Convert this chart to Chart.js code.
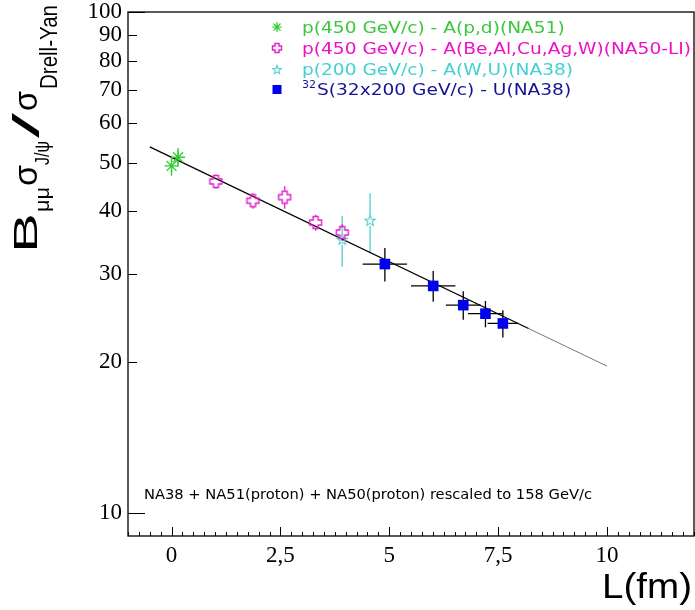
<!DOCTYPE html>
<html lang="en">
<head>
<meta charset="UTF-8">
<title>J/psi / Drell-Yan vs L</title>
<script src="https://cdn.jsdelivr.net/npm/chart.js"></script>
<style>
  html, body { margin: 0; padding: 0; background: #fff; }
  canvas { display: block; }
</style>
</head>
<body>
<canvas id="chart" width="695" height="610"></canvas>
<script>
// values
const na51L = [0.0, 0.15];
const na51R = [49.3, 51.3];
const na51Err = [2.2, 2.2];

const na50L = [1.02, 1.87, 2.60, 3.31, 3.92];
const na50R = [45.9, 42.0, 42.7, 38.0, 36.3];
const na50Err = [1.5, 1.5, 2.2, 1.4, 1.4];

const na38pL = [3.92, 4.56];
const na38pR = [35.1, 38.3];
const na38pErr = [4.1, 5.2];

const suL = [4.90, 6.01, 6.70, 7.21, 7.61];
const suR = [31.4, 28.4, 26.0, 25.0, 23.9];
const suLErr = [0.51, 0.51, 0.40, 0.40, 0.35];
const suRErr = [2.4, 2.0, 1.7, 1.5, 1.5];

const fitL = [-0.5, 8.2];
const fitR = [53.8, 23.35];
const fitTailL = [8.2, 10.0];
const fitTailR = [23.35, 19.65];

const xTickValues = [0, 2.5, 5, 7.5, 10];
const xTickLabels = ['0', '2,5', '5', '7,5', '10'];
const yTickValues = [10, 20, 30, 40, 50, 60, 70, 80, 90, 100];
const yTickLabels = ['10', '20', '30', '40', '50', '60', '70', '80', '90', '100'];

const legendLabels = [
  'p(450 GeV/c) - A(p,d)(NA51)',
  'p(450 GeV/c) - A(Be,Al,Cu,Ag,W)(NA50-LI)',
  'p(200 GeV/c) - A(W,U)(NA38)',
  'S(32x200 GeV/c) - U(NA38)'
];
const noteText = 'NA38 + NA51(proton) + NA50(proton) rescaled to 158 GeV/c';

const pts = (xs, ys) => xs.map((v, i) => ({ x: v, y: ys[i] }));

// marker shapes (ROOT open cross / open star)
function openCross(color, half, arm) {
  const n = Math.ceil(half * 2 + 3);
  const c = document.createElement('canvas');
  c.width = c.height = n;
  const g = c.getContext('2d');
  const o = n / 2;
  g.strokeStyle = color;
  g.lineWidth = 1.4;
  g.beginPath();
  g.moveTo(o - arm, o - half); g.lineTo(o + arm, o - half); g.lineTo(o + arm, o - arm);
  g.lineTo(o + half, o - arm); g.lineTo(o + half, o + arm); g.lineTo(o + arm, o + arm);
  g.lineTo(o + arm, o + half); g.lineTo(o - arm, o + half); g.lineTo(o - arm, o + arm);
  g.lineTo(o - half, o + arm); g.lineTo(o - half, o - arm); g.lineTo(o - arm, o - arm);
  g.closePath();
  g.stroke();
  return c;
}
function openStar(color, r) {
  const n = Math.ceil(r * 2 + 3);
  const c = document.createElement('canvas');
  c.width = c.height = n;
  const g = c.getContext('2d');
  const o = n / 2;
  g.strokeStyle = color;
  g.lineWidth = 1.1;
  g.beginPath();
  for (let k = 0; k < 10; k++) {
    const rr = k % 2 ? r * 0.42 : r;
    const a = -Math.PI / 2 + k * Math.PI / 5;
    const px = o + rr * Math.cos(a), py = o + rr * Math.sin(a);
    if (k === 0) g.moveTo(px, py); else g.lineTo(px, py);
  }
  g.closePath();
  g.stroke();
  return c;
}

const green = '#33cc33', magenta = '#e020c8', cyan = '#55cfcf', blue = '#0000ee';
const crossMark = openCross(magenta, 6, 2.5);
const starMark = openStar(cyan, 5.5);

const errorBars = {
  id: 'errorBars',
  beforeDatasetsDraw(chart) {
    const { ctx, scales: { x, y } } = chart;
    chart.data.datasets.forEach((ds) => {
      if (!ds.yErr) return;
      ctx.save();
      ctx.strokeStyle = ds.errColor;
      ctx.lineWidth = 1.3;
      ds.data.forEach((p, j) => {
        const px = x.getPixelForValue(p.x), py = y.getPixelForValue(p.y);
        const gap = ds.errGap || 0;
        const top = y.getPixelForValue(p.y + ds.yErr[j]);
        const bot = y.getPixelForValue(p.y - ds.yErr[j]);
        ctx.beginPath();
        if (top < py - gap) { ctx.moveTo(px, py - gap); ctx.lineTo(px, top); }
        if (bot > py + gap) { ctx.moveTo(px, py + gap); ctx.lineTo(px, bot); }
        if (ds.xErr) {
          const l = x.getPixelForValue(p.x - ds.xErr[j]);
          const r = x.getPixelForValue(p.x + ds.xErr[j]);
          ctx.moveTo(l, py); ctx.lineTo(px - gap, py);
          ctx.moveTo(px + gap, py); ctx.lineTo(r, py);
        }
        ctx.stroke();
      });
      ctx.restore();
    });
  }
};

function fitText(ctx, text, x, y, width) {
  const w = ctx.measureText(text).width;
  ctx.save();
  ctx.translate(x, y);
  ctx.scale(width / w, 1);
  ctx.fillText(text, 0, 0);
  ctx.restore();
}

const decorations = {
  id: 'decorations',
  afterDraw(chart) {
    const { ctx, chartArea: a, scales: { x, y } } = chart;
    ctx.save();
    // frame
    ctx.strokeStyle = '#000';
    ctx.lineWidth = 1.3;
    ctx.strokeRect(a.left, a.top, a.right - a.left, a.bottom - a.top);
    // inward ticks
    ctx.lineWidth = 1;
    ctx.beginPath();
    for (let v = -1; v <= 12.001; v += 0.25) {
      const px = Math.round(x.getPixelForValue(v)) + 0.5;
      const major = Math.abs(v / 2.5 - Math.round(v / 2.5)) < 1e-6;
      ctx.moveTo(px, a.bottom);
      ctx.lineTo(px, a.bottom - (major ? 9 : 4));
    }
    yTickValues.forEach((v) => {
      const py = Math.round(y.getPixelForValue(v)) + 0.5;
      const len = (v === 10 || v === 100) ? 17 : 9;
      ctx.moveTo(a.left, py);
      ctx.lineTo(a.left + len, py);
    });
    ctx.stroke();

    // y title
    ctx.fillStyle = '#000';
    const parts = [
      { t: 'B', size: 33, base: 37, from: 253, to: 213 },
      { t: 'μμ', size: 21, base: 49, from: 212, to: 187 },
      { t: 'σ', size: 34, base: 37, from: 186, to: 165 },
      { t: 'J/ψ', size: 21, base: 49, from: 165, to: 141 },
      { t: '/', size: 36, base: 39, from: 138, to: 113 },
      { t: 'σ', size: 34, base: 37, from: 111, to: 91 },
      { t: 'Drell-Yan', size: 23, base: 57, from: 89, to: 5 }
    ];
    parts.forEach((p) => {
      ctx.font = p.size + 'px "Liberation Sans", Arial, sans-serif';
      ctx.save();
      ctx.translate(p.base, p.from);
      ctx.rotate(-Math.PI / 2);
      fitText(ctx, p.t, 0, 0, p.from - p.to);
      ctx.restore();
    });

    // x title
    ctx.font = '35px "Liberation Sans", Arial, sans-serif';
    fitText(ctx, 'L(fm)', 602, 598, 90);

    // legend
    const legColors = ['#3cc83c', '#ee10c8', '#44d0d0', '#141496'];
    const rowY = [33, 54, 75, 95];
    ctx.font = '16px "DejaVu Sans", sans-serif';
    const scaleW = 389 / ctx.measureText(legendLabels[1]).width;
    legendLabels.forEach((t, i) => {
      ctx.fillStyle = legColors[i];
      if (i === 3) {
        ctx.font = '11px "DejaVu Sans", sans-serif';
        ctx.fillText('32', 302, rowY[i] - 7);
        ctx.font = '16px "DejaVu Sans", sans-serif';
        ctx.save(); ctx.translate(317, rowY[i]); ctx.scale(scaleW, 1);
        ctx.fillText(t, 0, 0); ctx.restore();
      } else {
        ctx.save(); ctx.translate(302, rowY[i]); ctx.scale(scaleW, 1);
        ctx.fillText(t, 0, 0); ctx.restore();
      }
    });
    const mx = 277;
    ctx.lineWidth = 1.2;
    ctx.strokeStyle = green;
    Chart.helpers.drawPoint(ctx, { pointStyle: 'star', radius: 5, rotation: 0, borderWidth: 1.2 }, mx, rowY[0] - 6);
    Chart.helpers.drawPoint(ctx, { pointStyle: openCross(magenta, 4.5, 2), radius: 5, rotation: 0 }, mx, rowY[1] - 6);
    Chart.helpers.drawPoint(ctx, { pointStyle: openStar(cyan, 4.5), radius: 5, rotation: 0 }, mx, rowY[2] - 5);
    ctx.fillStyle = blue;
    ctx.fillRect(mx - 4.5, rowY[3] - 10, 9, 9);

    // note
    ctx.fillStyle = '#000';
    ctx.font = '14px "DejaVu Sans Condensed", "DejaVu Sans", sans-serif';
    fitText(ctx, noteText, 144, 499, 448);
    ctx.restore();
  }
};

// keep the frame at fixed pixel edges regardless of label overhang
function pinScale(s, size) {
  if (s.isHorizontal()) s.height = size; else s.width = size;
  s.paddingTop = 0; s.paddingBottom = 0; s.paddingLeft = 0; s.paddingRight = 0;
}

new Chart(document.getElementById('chart'), {
  type: 'scatter',
  data: {
    datasets: [
      {
        label: 'fit', type: 'line', data: pts(fitL, fitR), order: 10,
        borderColor: '#000', borderWidth: 1.3, pointRadius: 0, fill: false
      },
      {
        label: 'fit tail', type: 'line', data: pts(fitTailL, fitTailR), order: 10,
        borderColor: '#777', borderWidth: 1, pointRadius: 0, fill: false
      },
      {
        label: legendLabels[2], data: pts(na38pL, na38pR), order: 4,
        pointStyle: starMark, pointRadius: 6, yErr: na38pErr, errColor: cyan, errGap: 5
      },
      {
        label: legendLabels[1], data: pts(na50L, na50R), order: 3,
        pointStyle: crossMark, pointRadius: 6, yErr: na50Err, errColor: magenta, errGap: 6
      },
      {
        label: legendLabels[0], data: pts(na51L, na51R), order: 2,
        pointStyle: 'star', pointRadius: 7, borderColor: green, borderWidth: 1.3,
        yErr: na51Err, errColor: green, errGap: 0
      },
      {
        label: legendLabels[3], data: pts(suL, suR), order: 1,
        pointStyle: 'rect', pointRadius: 7.5, backgroundColor: blue, borderColor: blue, borderWidth: 0,
        yErr: suRErr, xErr: suLErr, errColor: '#000', errGap: 0
      }
    ]
  },
  options: {
    responsive: false,
    animation: false,
    layout: { autoPadding: false, padding: { left: 0, right: 1, top: 12, bottom: 0 } },
    plugins: { legend: { display: false }, tooltip: { enabled: false } },
    scales: {
      x: {
        type: 'linear', min: -1, max: 12,
        afterFit: (s) => pinScale(s, 74),
        afterBuildTicks: (s) => { s.ticks = xTickValues.map((v) => ({ value: v })); },
        grid: { display: false, drawTicks: false },
        border: { display: false },
        ticks: {
          autoSkip: false, maxRotation: 0, padding: 8, color: '#000',
          font: { family: '"Liberation Serif", serif', size: 23, lineHeight: 1 },
          callback: (v, i) => xTickLabels[i]
        }
      },
      y: {
        type: 'logarithmic', min: 9, max: 100,
        afterFit: (s) => pinScale(s, 128),
        afterBuildTicks: (s) => { s.ticks = yTickValues.map((v) => ({ value: v })); },
        grid: { display: false, drawTicks: false },
        border: { display: false },
        ticks: {
          autoSkip: false, padding: 6, color: '#000',
          font: { family: '"Liberation Serif", serif', size: 23, lineHeight: 1 },
          callback: (v, i) => yTickLabels[i]
        }
      }
    }
  },
  plugins: [errorBars, decorations]
});
</script>
</body>
</html>
